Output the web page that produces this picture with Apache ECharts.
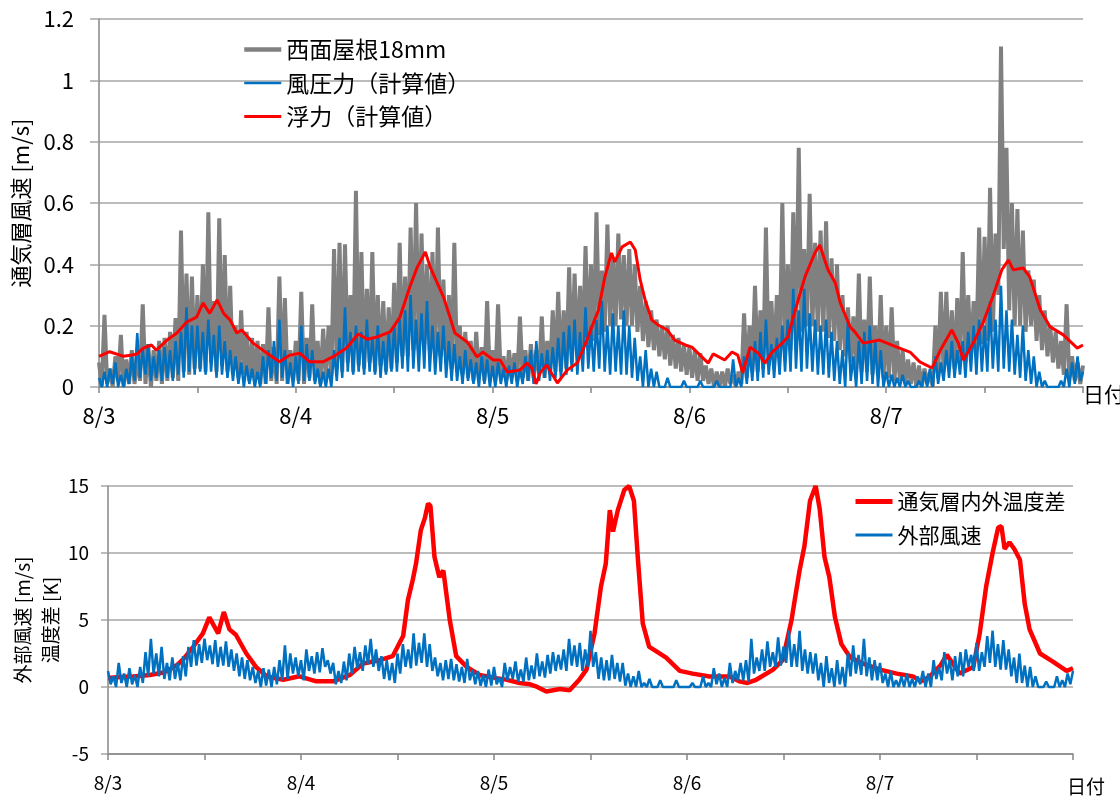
<!DOCTYPE html>
<html>
<head>
<meta charset="utf-8">
<script src="https://cdn.jsdelivr.net/npm/echarts@6/dist/echarts.min.js"></script>
<style>
  html, body { margin: 0; padding: 0; background: #fff; }
  #chart { width: 1120px; height: 798px; }
</style>
</head>
<body>
<div id="chart"></div>
<script>
// Date labels at each day boundary (hours 0, 24, 48, 72, 96)
const dayLabels = ['8/3', '8/4', '8/5', '8/6', '8/7'];

// Cavity air velocity, west roof 18 mm gap [m/s], every 20 min from 8/3 0:00 (one row = 4 h)
const westRoof18mm = [
  0.08,0.0,0.235,0.01,0.06,0.0,0.1,0.02,0.17,0.0,0.09,0.01,
  0.12,0.01,0.1,0.02,0.27,0.01,0.14,0.0,0.12,0.02,0.15,0.01,
  0.16,0.02,0.18,0.03,0.225,0.02,0.51,0.05,0.37,0.04,0.36,0.06,
  0.3,0.06,0.4,0.05,0.57,0.08,0.28,0.05,0.55,0.07,0.43,0.05,
  0.33,0.04,0.2,0.03,0.25,0.04,0.18,0.02,0.16,0.03,0.15,0.01,
  0.14,0.01,0.26,0.02,0.13,0.01,0.36,0.02,0.29,0.01,0.12,0.02,
  0.15,0.02,0.31,0.01,0.16,0.03,0.27,0.02,0.15,0.01,0.19,0.03,
  0.2,0.04,0.45,0.06,0.47,0.05,0.465,0.08,0.3,0.05,0.64,0.07,
  0.44,0.06,0.32,0.08,0.44,0.05,0.3,0.07,0.28,0.05,0.26,0.06,
  0.34,0.08,0.47,0.1,0.36,0.1,0.52,0.12,0.6,0.12,0.5,0.14,
  0.4,0.12,0.44,0.1,0.52,0.1,0.35,0.08,0.3,0.06,0.47,0.05,
  0.2,0.04,0.18,0.03,0.15,0.02,0.18,0.03,0.13,0.02,0.28,0.03,
  0.12,0.02,0.27,0.03,0.1,0.02,0.12,0.03,0.11,0.02,0.23,0.03,
  0.12,0.02,0.14,0.03,0.12,0.04,0.23,0.03,0.15,0.04,0.25,0.05,
  0.31,0.05,0.25,0.06,0.39,0.08,0.37,0.1,0.33,0.12,0.46,0.14,
  0.4,0.15,0.57,0.17,0.38,0.18,0.53,0.2,0.42,0.2,0.5,0.22,
  0.43,0.2,0.45,0.2,0.4,0.18,0.33,0.15,0.28,0.13,0.25,0.12,
  0.22,0.1,0.2,0.09,0.2,0.07,0.17,0.06,0.16,0.05,0.14,0.04,
  0.13,0.03,0.12,0.02,0.11,0.02,0.07,0.01,0.06,0.0,0.05,0.0,
  0.05,0.0,0.06,0.01,0.04,0.0,0.05,0.01,0.24,0.03,0.2,0.05,
  0.33,0.05,0.25,0.06,0.52,0.07,0.28,0.08,0.3,0.1,0.6,0.1,
  0.4,0.12,0.57,0.15,0.78,0.18,0.45,0.2,0.63,0.2,0.47,0.18,
  0.51,0.18,0.54,0.16,0.42,0.15,0.4,0.12,0.3,0.1,0.26,0.08,
  0.23,0.06,0.37,0.05,0.22,0.05,0.36,0.04,0.2,0.04,0.3,0.03,
  0.2,0.03,0.26,0.02,0.15,0.02,0.12,0.01,0.09,0.01,0.08,0.0,
  0.07,0.0,0.06,0.01,0.05,0.0,0.2,0.03,0.31,0.05,0.31,0.06,
  0.25,0.06,0.29,0.08,0.44,0.08,0.3,0.1,0.28,0.12,0.52,0.14,
  0.49,0.15,0.65,0.18,0.5,0.3,1.11,0.45,0.78,0.25,0.6,0.2,
  0.58,0.2,0.51,0.18,0.38,0.2,0.35,0.15,0.3,0.12,0.25,0.1,
  0.2,0.08,0.18,0.06,0.15,0.04,0.27,0.03,0.1,0.02,0.08,0.01,
  0.07
];

// Calculated velocity from wind pressure [m/s], every 20 min (one row = 4 h)
const windPressureCalc = [
  0.03,0.0,0.05,0.0,0.06,0.01,0.08,0.0,0.04,0.0,0.06,0.01,
  0.1,0.02,0.176,0.03,0.12,0.04,0.14,0.02,0.1,0.03,0.12,0.02,
  0.13,0.03,0.12,0.02,0.15,0.04,0.18,0.03,0.26,0.05,0.2,0.04,
  0.2,0.05,0.18,0.04,0.22,0.05,0.17,0.03,0.2,0.04,0.15,0.03,
  0.12,0.02,0.1,0.01,0.08,0.0,0.07,0.01,0.06,0.0,0.05,0.0,
  0.1,0.01,0.12,0.03,0.15,0.02,0.22,0.03,0.12,0.01,0.08,0.0,
  0.1,0.01,0.2,0.02,0.14,0.02,0.12,0.01,0.06,0.0,0.05,0.0,
  0.06,0.0,0.12,0.02,0.16,0.03,0.26,0.05,0.18,0.04,0.2,0.05,
  0.18,0.04,0.22,0.05,0.16,0.04,0.2,0.03,0.15,0.04,0.18,0.05,
  0.2,0.05,0.22,0.06,0.25,0.05,0.3,0.06,0.22,0.05,0.24,0.06,
  0.28,0.05,0.2,0.04,0.18,0.05,0.2,0.03,0.15,0.02,0.14,0.02,
  0.1,0.01,0.12,0.02,0.09,0.01,0.08,0.0,0.1,0.01,0.09,0.0,
  0.07,0.0,0.08,0.01,0.06,0.0,0.07,0.01,0.08,0.0,0.06,0.01,
  0.1,0.02,0.12,0.01,0.15,0.02,0.11,0.03,0.12,0.02,0.13,0.03,
  0.16,0.03,0.18,0.04,0.2,0.05,0.22,0.04,0.18,0.05,0.26,0.06,
  0.2,0.05,0.22,0.06,0.28,0.05,0.2,0.04,0.24,0.05,0.2,0.04,
  0.25,0.04,0.2,0.03,0.16,0.02,0.1,0.0,0.12,0.0,0.06,0.0,
  0.05,0.0,0.0,0.0,0.03,0.0,0.0,0.0,0.0,0.0,0.02,0.0,
  0.0,0.0,0.0,0.0,0.02,0.0,0.0,0.0,0.0,0.0,0.02,0.0,
  0.0,0.0,0.0,0.0,0.09,0.0,0.03,0.0,0.1,0.01,0.12,0.02,
  0.15,0.02,0.18,0.03,0.22,0.04,0.14,0.03,0.16,0.04,0.2,0.05,
  0.22,0.05,0.32,0.06,0.25,0.05,0.32,0.06,0.24,0.05,0.22,0.04,
  0.2,0.04,0.22,0.03,0.18,0.02,0.15,0.01,0.12,0.0,0.22,0.02,
  0.1,0.0,0.15,0.01,0.18,0.02,0.2,0.01,0.15,0.0,0.12,0.0,
  0.05,0.0,0.04,0.0,0.03,0.0,0.04,0.0,0.02,0.0,0.0,0.0,
  0.02,0.0,0.05,0.0,0.06,0.0,0.1,0.01,0.08,0.02,0.12,0.03,
  0.15,0.03,0.12,0.04,0.15,0.03,0.18,0.05,0.2,0.04,0.22,0.05,
  0.2,0.05,0.28,0.06,0.22,0.05,0.33,0.06,0.25,0.05,0.22,0.04,
  0.17,0.03,0.2,0.02,0.12,0.01,0.1,0.0,0.05,0.0,0.02,0.0,
  0.0,0.0,0.0,0.0,0.02,0.0,0.06,0.0,0.08,0.01,0.1,0.02,
  0.05
];

// Calculated velocity from buoyancy [m/s] at irregular hours
const buoyancyHours = [
  0, 1.3, 3, 4.6, 5.4, 6.4, 7, 8.3, 9.5, 10.7, 11.9, 12.7, 13.5, 14.4, 15.2, 16, 16.8, 17.4, 18.8,
  20.5, 22, 23.3, 24.5, 25.7, 27.3, 28.5, 30.2, 31.6, 32.7, 33.9, 35.5, 36.7, 37.9, 38.8, 39.8,
  40.4, 41.2, 42, 42.8, 43.4, 44.9, 46.1, 46.8, 48.1, 48.9, 49.8, 51.3, 52.2, 52.8, 53.3, 53.8,
  54.6, 55.9, 57.1, 58.3, 59, 59.6, 60.1, 60.9, 61.7, 62.5, 62.9, 63.8, 64.8, 65.4, 66, 66.6,
  67.4, 68.2, 69.3, 70.2, 71.5, 72.3, 73.3, 74.3, 74.9, 76.3, 77.2, 77.9, 78.5, 79.4, 80.4,
  81.2, 82.1, 83.3, 84, 84.9, 86.1, 87.3, 87.9, 88.9, 89.8, 90.4, 91.6, 92.2, 93.2, 95.2,
  97.3, 98.9, 100.1, 101.6, 102.6, 104, 104.8, 105.4, 106.6, 107.8, 109, 110.1, 110.9, 111.5,
  112.7, 113.5, 114.8, 116, 117.6, 119.3, 120
];
const buoyancyCalc = [
  0.10, 0.115, 0.10, 0.107, 0.127, 0.137, 0.12, 0.153, 0.176, 0.212, 0.228, 0.274, 0.24, 0.284, 0.24, 0.218, 0.176, 0.186, 0.143,
  0.11, 0.082, 0.104, 0.11, 0.082, 0.082, 0.098, 0.127, 0.173, 0.156, 0.163, 0.18, 0.228, 0.326, 0.39, 0.44,
  0.39, 0.342, 0.294, 0.228, 0.176, 0.147, 0.098, 0.114, 0.088, 0.088, 0.049, 0.055, 0.078, 0.06, 0.01, 0.046,
  0.072, 0.013, 0.055, 0.078, 0.12, 0.16, 0.196, 0.25, 0.36, 0.437, 0.408, 0.457, 0.473, 0.447, 0.349, 0.284,
  0.219, 0.202, 0.186, 0.153, 0.137, 0.13, 0.104, 0.078, 0.108, 0.088, 0.114, 0.104, 0.046, 0.13, 0.11,
  0.078, 0.114, 0.143, 0.163, 0.25, 0.36, 0.437, 0.463, 0.382, 0.339, 0.274, 0.196, 0.179, 0.143, 0.153,
  0.13, 0.114, 0.082, 0.062, 0.12, 0.186, 0.143, 0.088, 0.143, 0.209, 0.294, 0.382, 0.414, 0.382,
  0.388, 0.359, 0.251, 0.196, 0.17, 0.127, 0.137
];

// Temperature difference inside/outside the cavity [K] at irregular hours
const tempDiffHours = [
  0, 1.5, 3.1, 5.2, 7, 8.5, 9.3, 10.6, 11.8, 12.6, 13.7, 14.4, 15.1, 15.9, 17.2, 18.4, 19.7, 21.8,
  23.8, 25.9, 28, 30.1, 31.7, 33.8, 35.4, 36.7, 37.3, 37.9, 38.3, 38.9, 39.4, 39.8, 40.1, 40.6,
  41.2, 41.7, 42.5, 43.3, 44.6, 46.2, 48.3, 49.5, 51.2, 52.5, 53.2, 54.5, 56.2, 57.4, 58.6, 59.5,
  60.5, 61.3, 61.9, 62.4, 62.8, 63.4, 64.2, 64.8, 65.4, 65.9, 66.5, 67.3, 68.1, 69.4, 71.1, 72.7,
  74.8, 77.3, 78.5, 79.5, 80.6, 82.7, 83.9, 85, 85.4, 86, 86.6, 87.3, 88, 88.5, 89.1, 89.7, 90.4,
  91.2, 92.3, 93.9, 96, 98.1, 100.1, 101.1, 102.2, 103.5, 104.3, 105.9, 107.6, 108.4, 109.2, 110,
  110.7, 111.1, 111.5, 112.1, 112.7, 113.4, 114, 114.6, 115.9, 117.5, 119.2, 120
];
const tempDiff = [
  0.67, 0.75, 0.79, 0.9, 1.1, 1.6, 2.03, 3.0, 4.0, 5.2, 4.0, 5.6, 4.3, 3.9, 2.5, 1.5, 0.8, 0.54,
  0.8, 0.42, 0.42, 0.9, 1.75, 2.0, 2.3, 3.8, 6.5, 8.0, 9.2, 11.7, 12.6, 13.7, 13.5, 9.7,
  8.2, 8.7, 5.0, 2.3, 1.5, 0.9, 0.66, 0.55, 0.3, 0.2, 0.05, -0.33, -0.15, -0.25, 0.54, 1.3,
  4.0, 7.5, 9.2, 13.2, 11.6, 13.2, 14.7, 15.0, 13.9, 9.5, 4.75, 3.0, 2.7, 2.2, 1.2, 1.0,
  0.79, 0.79, 0.42, 0.3, 0.54, 1.3, 2.0, 5.0, 6.5, 8.7, 10.5, 13.9, 15.0, 13.3, 9.7, 8.2, 5.2,
  3.2, 2.2, 1.75, 1.3, 1.0, 0.79, 0.42, 0.79, 1.6, 2.4, 1.0, 1.5, 4.0, 7.5, 10.0,
  11.9, 12.0, 10.3, 10.8, 10.3, 9.5, 6.2, 4.3, 2.5, 1.9, 1.2, 1.4
];

// Outdoor wind speed [m/s], every 20 min (one row = 4 h)
const outdoorWind = [
  1.2,0.2,0.8,0.0,1.8,0.3,1.0,0.0,1.4,0.2,0.9,0.0,
  1.5,0.3,2.6,0.8,3.6,1.0,2.5,0.8,3.0,0.6,1.8,0.5,
  2.2,0.6,1.8,0.5,2.3,0.8,3.0,1.5,3.5,1.6,3.2,1.8,
  3.6,2.0,3.1,1.7,3.5,1.5,3.0,1.6,3.4,1.5,2.8,1.2,
  2.5,0.8,2.2,0.6,2.0,0.5,1.5,0.3,1.2,0.0,1.4,0.1,
  1.3,0.0,1.5,0.2,2.0,0.5,3.1,0.6,2.5,1.0,2.2,0.8,
  2.0,0.5,2.8,1.2,2.3,1.0,2.6,1.1,2.9,1.5,2.0,1.0,
  1.8,0.2,1.2,0.3,1.9,0.5,2.5,1.0,3.0,1.4,2.6,1.2,
  3.1,1.7,3.6,1.5,2.8,1.2,2.3,0.6,2.0,0.5,1.8,0.3,
  2.5,1.0,3.2,1.5,2.8,1.4,4.0,1.6,3.3,1.8,4.0,1.5,
  3.2,1.2,2.2,0.8,1.8,0.5,2.0,0.6,2.1,0.5,1.7,0.4,
  1.5,0.3,2.1,0.5,1.3,0.2,1.2,0.1,0.9,0.0,1.3,0.1,
  1.5,0.2,0.7,0.0,1.8,0.5,1.5,0.6,1.9,0.4,1.3,0.4,
  2.2,0.5,1.6,0.6,2.5,0.8,1.9,0.7,2.4,1.0,2.6,1.2,
  2.4,1.3,2.8,1.2,3.6,1.6,3.1,1.5,3.3,1.2,2.8,1.5,
  4.2,1.5,2.6,0.6,2.2,0.5,2.0,0.5,2.4,0.6,1.8,0.4,
  1.8,0.1,1.0,0.0,0.8,0.0,1.2,0.0,0.3,0.0,0.6,0.0,
  0.0,0.0,0.5,0.0,0.0,0.0,0.0,0.0,0.5,0.0,0.0,0.0,
  0.0,0.0,0.3,0.0,0.0,0.0,0.8,0.0,0.3,0.0,1.4,0.2,
  1.0,0.0,0.7,0.0,1.8,0.3,1.2,0.5,1.8,0.5,2.0,0.4,
  3.6,1.0,2.2,1.2,2.8,1.2,3.4,1.5,2.6,1.5,3.7,1.6,
  3.0,1.8,4.2,1.5,3.2,1.5,4.2,1.2,2.8,1.0,2.6,1.0,
  2.5,0.5,1.8,0.0,2.3,0.3,1.4,0.0,2.0,0.2,1.5,0.0,
  2.5,0.8,3.1,1.0,2.4,0.9,3.6,0.8,2.2,0.5,2.0,0.5,
  1.8,0.3,1.0,0.0,1.2,0.0,0.5,0.0,0.8,0.0,1.0,0.0,
  0.6,0.0,0.8,0.2,1.2,0.0,1.0,0.0,2.0,0.6,1.5,0.5,
  2.6,1.0,2.0,0.5,2.3,0.8,2.6,0.8,2.8,1.5,2.4,1.2,
  3.3,1.2,2.6,1.5,3.8,1.8,4.2,1.5,3.2,1.3,3.5,1.3,
  2.8,0.8,2.2,0.3,2.5,0.3,1.6,0.0,1.5,0.0,0.8,0.0,
  0.0,0.0,0.4,0.0,0.0,0.0,0.8,0.0,0.5,0.0,1.0,0.2,
  1.2
];

// 20-minute samples are paired with their elapsed hour for the value x-axis
function every20min(values) {
  return values.map((v, i) => [i / 3, v]);
}
function paired(hours, values) {
  return hours.map((h, i) => [h, values[i]]);
}

const FONT = '"Noto Sans CJK JP", "Noto Sans", sans-serif';
const GRID_COLOR = '#a6a6a6';
const AXIS_COLOR = '#868686';
const TEXT_COLOR = '#000';
const GRAY = '#808080', BLUE = '#0070c0', RED = '#ff0000';

function dayFormatter(v) {
  if (v % 24 === 0 && v / 24 < dayLabels.length) return dayLabels[v / 24];
  return '';
}

function xAxisBase(gridIndex, fontSize, labelMargin) {
  return {
    type: 'value', gridIndex, min: 0, max: 120, interval: 12,
    axisLine: { show: true, onZero: false, lineStyle: { color: AXIS_COLOR, width: 1.5 } },
    axisTick: { show: true, inside: false, length: 6, lineStyle: { color: AXIS_COLOR, width: 1.5 } },
    axisLabel: { formatter: dayFormatter, color: TEXT_COLOR, fontSize, fontFamily: FONT, margin: labelMargin },
    splitLine: { show: false }
  };
}

// Legend keys are plain line strokes (no marker dot)
const legendBase = {
  orient: 'vertical', itemWidth: 37, itemHeight: 20, padding: 0,
  itemStyle: { opacity: 0 },
  lineStyle: { width: 'inherit' }
};

const chart = echarts.init(document.getElementById('chart'), null, { renderer: 'canvas' });

chart.setOption({
  animation: false,
  backgroundColor: '#fff',
  grid: [
    { left: 99, right: 37, top: 19, height: 368 },
    { left: 108, right: 47, top: 486, height: 268 }
  ],
  legend: [
    Object.assign({}, legendBase, {
      left: 242, top: 38, itemGap: 10.5,
      textStyle: { color: TEXT_COLOR, fontSize: 23, fontFamily: FONT },
      data: [
        { name: '西面屋根18mm', lineStyle: { width: 4.5, color: GRAY } },
        { name: '風圧力（計算値）', lineStyle: { width: 2.5, color: BLUE } },
        { name: '浮力（計算値）', lineStyle: { width: 3, color: RED } }
      ]
    }),
    Object.assign({}, legendBase, {
      left: 853, top: 491, itemGap: 12.5,
      textStyle: { color: TEXT_COLOR, fontSize: 21, fontFamily: FONT },
      data: [
        { name: '通気層内外温度差', lineStyle: { width: 5, color: RED } },
        { name: '外部風速', lineStyle: { width: 3, color: BLUE } }
      ]
    })
  ],
  graphic: [
    { type: 'text', left: 1083, top: 384, style: { text: '日付', fill: TEXT_COLOR, fontSize: 21, fontFamily: FONT } },
    { type: 'text', left: 1067, top: 777, style: { text: '日付', fill: TEXT_COLOR, fontSize: 19, fontFamily: FONT } }
  ],
  xAxis: [
    xAxisBase(0, 22, 18),
    xAxisBase(1, 19, 19)
  ],
  yAxis: [
    {
      type: 'value', gridIndex: 0, min: 0, max: 1.2, interval: 0.2,
      name: '通気層風速 [m/s]', nameLocation: 'middle', nameRotate: 90, nameGap: 67, nameMoveOverlap: false,
      nameTextStyle: { color: TEXT_COLOR, fontSize: 22, fontFamily: FONT },
      axisLine: { show: true, lineStyle: { color: AXIS_COLOR, width: 1.5 } },
      axisTick: { show: true, length: 9, lineStyle: { color: GRID_COLOR, width: 1.5 } },
      axisLabel: { color: TEXT_COLOR, fontSize: 22, fontFamily: FONT, margin: 25 },
      splitLine: { show: true, lineStyle: { color: GRID_COLOR, width: 1.5 } }
    },
    {
      type: 'value', gridIndex: 1, min: -5, max: 15, interval: 5,
      name: '外部風速 [m/s]\n温度差 [K]', nameLocation: 'middle', nameRotate: 90, nameGap: 43, nameMoveOverlap: false,
      nameTextStyle: { color: TEXT_COLOR, fontSize: 19, fontFamily: FONT, lineHeight: 28, align: 'center' },
      axisLine: { show: true, lineStyle: { color: AXIS_COLOR, width: 1.5 } },
      axisTick: { show: true, length: 7, lineStyle: { color: GRID_COLOR, width: 1.5 } },
      axisLabel: { color: TEXT_COLOR, fontSize: 19, fontFamily: FONT, margin: 19 },
      splitLine: { show: true, lineStyle: { color: GRID_COLOR, width: 1.5 } }
    }
  ],
  series: [
    {
      name: '西面屋根18mm', type: 'line', xAxisIndex: 0, yAxisIndex: 0,
      data: every20min(westRoof18mm), symbol: 'none',
      lineStyle: { color: GRAY, width: 4 }, itemStyle: { color: GRAY }
    },
    {
      name: '風圧力（計算値）', type: 'line', xAxisIndex: 0, yAxisIndex: 0,
      data: every20min(windPressureCalc), symbol: 'none',
      lineStyle: { color: BLUE, width: 2.5 }, itemStyle: { color: BLUE }
    },
    {
      name: '浮力（計算値）', type: 'line', xAxisIndex: 0, yAxisIndex: 0,
      data: paired(buoyancyHours, buoyancyCalc), symbol: 'none',
      lineStyle: { color: RED, width: 3 }, itemStyle: { color: RED }
    },
    {
      name: '通気層内外温度差', type: 'line', xAxisIndex: 1, yAxisIndex: 1,
      data: paired(tempDiffHours, tempDiff), symbol: 'none',
      lineStyle: { color: RED, width: 4.5 }, itemStyle: { color: RED }
    },
    {
      name: '外部風速', type: 'line', xAxisIndex: 1, yAxisIndex: 1,
      data: every20min(outdoorWind), symbol: 'none',
      lineStyle: { color: BLUE, width: 2.5 }, itemStyle: { color: BLUE }
    }
  ]
});
</script>
</body>
</html>
